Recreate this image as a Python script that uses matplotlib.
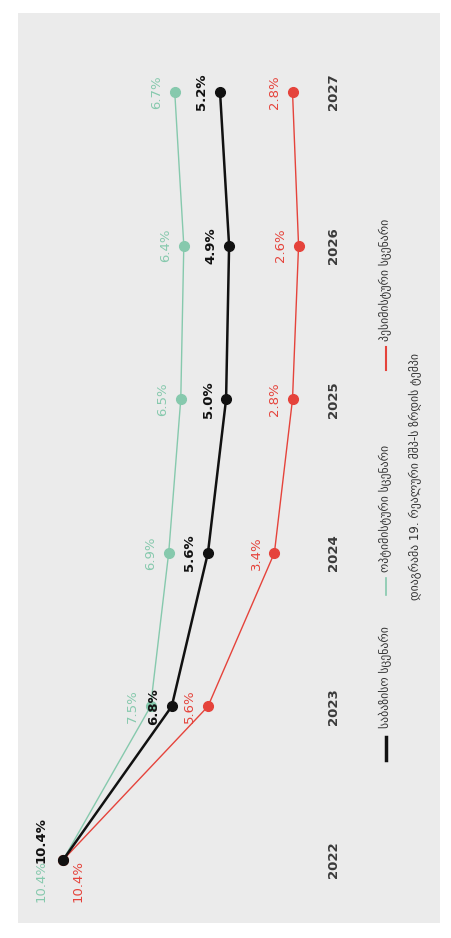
import matplotlib.pyplot as plt
from matplotlib.lines import Line2D

years = [2022, 2023, 2024, 2025, 2026, 2027]
base = [10.4, 6.8, 5.6, 5.0, 4.9, 5.2]
optimistic = [10.4, 7.5, 6.9, 6.5, 6.4, 6.7]
pessimistic = [10.4, 5.6, 3.4, 2.8, 2.6, 2.8]

base_label = "საბაზისო სცენარი"
opt_label = "ოპტიმისტური სცენარი"
pess_label = "პესიმისტური სცენარი"
source = "დიაგრამა 19. რეალური მშპ-ს ზრდის ტემპი"

c_base = "#111111"
c_opt = "#86c9ad"
c_pess = "#e5433b"

W, H = 451, 938
fig = plt.figure(figsize=(W / 100, H / 100), dpi=100)
fig.patch.set_facecolor("white")

bg = fig.add_axes([18 / W, 15 / H, 422 / W, 910 / H])
bg.set_facecolor("#ebebeb")
bg.set_xticks([])
bg.set_yticks([])
for s in bg.spines.values():
    s.set_visible(False)

# chart is drawn rotated: value axis runs right->left, years run bottom->top
ax = fig.add_axes([0, 0, 1, 1])
ax.patch.set_alpha(0)
ax.axis("off")
px_per_unit = 30.2
px_per_year = 153.6
x0, v0 = 63, 10.4
ax.set_xlim(v0 + x0 / px_per_unit, v0 - (W - x0) / px_per_unit)
ybot = H - 860
ax.set_ylim(2022 - ybot / px_per_year, 2022 + (H - ybot) / px_per_year)

ax.plot(optimistic, years, color=c_opt, lw=1.0, marker="o", ms=7, zorder=2)
ax.plot(pessimistic, years, color=c_pess, lw=1.0, marker="o", ms=7, zorder=2)
ax.plot(base, years, color=c_base, lw=1.8, marker="o", ms=7, zorder=3)

fs = 9.5
for i, (y, v) in enumerate(zip(years, base)):
    off = (-16, 14) if i == 0 else (-13, 0)
    ax.annotate(f"{v}%", (v, y), xytext=off, textcoords="offset points",
                rotation=90, ha="center", va="center", fontsize=fs,
                fontweight="bold", color=c_base)
for i, (y, v) in enumerate(zip(years, optimistic)):
    off = (-16, -15) if i == 0 else (-13, 0)
    ax.annotate(f"{v}%", (v, y), xytext=off, textcoords="offset points",
                rotation=90, ha="center", va="center", fontsize=fs,
                color=c_opt)
for i, (y, v) in enumerate(zip(years, pessimistic)):
    off = (11, -15) if i == 0 else (-13, 0)
    ax.annotate(f"{v}%", (v, y), xytext=off, textcoords="offset points",
                rotation=90, ha="center", va="center", fontsize=fs,
                color=c_pess)

for y in years:
    ax.text(333 / W, y, str(y), transform=ax.get_yaxis_transform(),
            rotation=90, ha="center", va="center", fontsize=9.5,
            fontweight="bold", color="#3a3a3a")

# legend, drawn rotated like the rest
lx = 386 / W
items = [(c_base, 2.5, 760, 737, base_label, 728),
         (c_opt, 1.2, 595, 578, opt_label, 572),
         (c_pess, 1.5, 370, 347, pess_label, 341)]
for col, lw, ya, yb, lab, yt in items:
    fig.add_artist(Line2D([lx, lx], [1 - ya / H, 1 - yb / H], color=col, lw=lw))
    fig.text(lx, 1 - yt / H, lab, rotation=90, ha="center", va="bottom",
             fontsize=8.5, color="#333333")
fig.text(416 / W, 1 - 600 / H, source, rotation=90, ha="center", va="bottom",
         fontsize=8.5, color="#333333")

fig.savefig("out.png", dpi=100)
